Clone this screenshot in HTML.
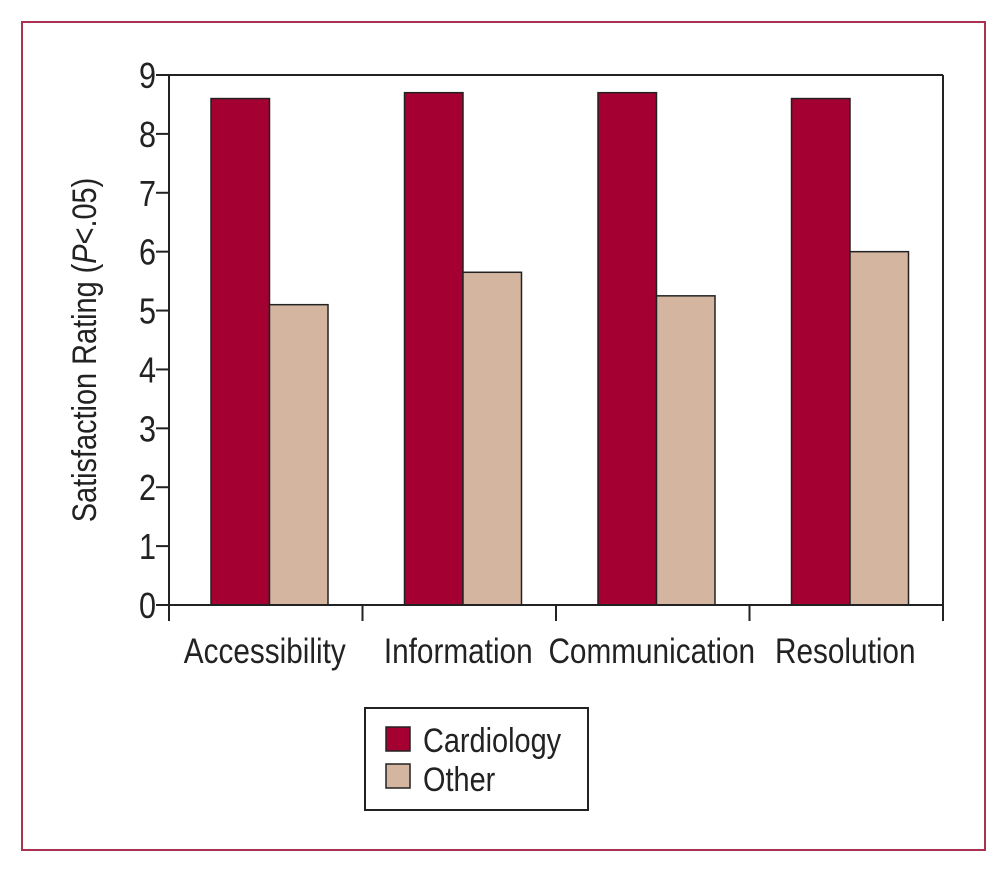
<!DOCTYPE html>
<html><head><meta charset="utf-8"><style>
html,body{margin:0;padding:0;background:#fff;}
svg{display:block;font-family:"Liberation Sans",sans-serif;}
</style></head><body>
<svg id="chart" width="1008" height="875" viewBox="0 0 1008 875">
<rect x="22" y="22" width="963" height="828" fill="none" stroke="#a8324f" stroke-width="2"/>
<g id="plot"></g>
<g transform="translate(96,350) rotate(-90)">
<text x="0" y="0" text-anchor="middle" font-size="34" transform="scale(0.85,1)" fill="#222">Satisfaction Rating (<tspan font-style="italic">P</tspan>&lt;.05)</text>
</g>
<g>
<rect x="365" y="708" width="223" height="102" fill="#fff" stroke="#222" stroke-width="2"/>
<rect x="386" y="727" width="24" height="24" fill="#a50032" stroke="#222" stroke-width="1.5"/>
<rect x="386" y="764" width="24" height="24" fill="#d3b5a0" stroke="#222" stroke-width="1.5"/>
<text transform="translate(423,752) scale(0.85,1)" font-size="34" fill="#222">Cardiology</text>
<text transform="translate(423,791) scale(0.85,1)" font-size="34" fill="#222">Other</text>
</g>
</svg>
<script>
const categories = ["Accessibility","Information","Communication","Resolution"];
const cardiology = [8.6, 8.7, 8.7, 8.6];
const other = [5.1, 5.65, 5.25, 6.0];
const yTicks = [0,1,2,3,4,5,6,7,8,9];

const NS = "http://www.w3.org/2000/svg";
const g = document.getElementById("plot");
const x0 = 169, x1 = 943, yTop = 75, yBot = 605, yMax = 9;
const groupW = (x1 - x0) / categories.length;
const y = v => yBot - v / yMax * (yBot - yTop);
const gx = i => x0 + i * groupW;
function mk(tag, attrs){ const e = document.createElementNS(NS, tag); for (const k in attrs) e.setAttribute(k, attrs[k]); g.appendChild(e); return e; }

categories.forEach((c, i) => {
  const bx = gx(i) + 42, bw = 58.5;
  const r1 = mk("rect", {x: bx, y: y(cardiology[i]), width: bw, height: yBot - y(cardiology[i]), fill: "#a50032", stroke: "#222", "stroke-width": 1.5});
  
  
  const r2 = mk("rect", {x: bx + bw, y: y(other[i]), width: bw, height: yBot - y(other[i]), fill: "#d3b5a0", stroke: "#222", "stroke-width": 1.5});
  
  
  const t = mk("text", {transform: `translate(${gx(i) + groupW / 2 - 1},663) scale(0.85,1)`, "text-anchor": "middle", "font-size": 35, fill: "#222"});
  t.textContent = c;
  
  
});
for (let i = 0; i <= categories.length; i++) {
  const tk = mk("line", {x1: gx(i), x2: gx(i), y1: yBot, y2: 621, stroke: "#222", "stroke-width": 2});
  
  
}
yTicks.forEach(v => {
  const tk = mk("line", {x1: 156, x2: x0, y1: y(v), y2: y(v), stroke: "#222", "stroke-width": 2});
  
  
  const t = mk("text", {transform: `translate(156,${y(v) + 13}) scale(0.85,1)`, "text-anchor": "end", "font-size": 36, fill: "#222"});
  t.textContent = v;
  
  
});
const axes = [
  ["y-axis", x0, yTop, x0, yBot], ["x-axis", x0, yBot, x1, yBot],
  ["top-frame", x0, yTop, x1, yTop], ["right-frame", x1, yTop, x1, yBot]
];
axes.forEach(a => {
  const l = mk("line", {x1: a[1], y1: a[2], x2: a[3], y2: a[4], stroke: "#222", "stroke-width": 2});
  
  
});
</script>
</body></html>
